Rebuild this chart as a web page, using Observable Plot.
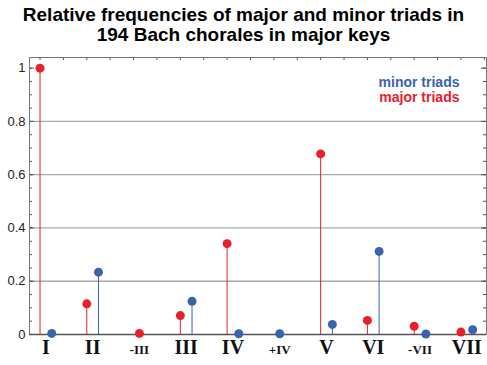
<!DOCTYPE html>
<html>
<head>
<meta charset="utf-8">
<script src="https://cdn.jsdelivr.net/npm/d3@7"></script>
<script src="https://cdn.jsdelivr.net/npm/@observablehq/plot@0.6"></script>
<style>
  html, body { margin: 0; padding: 0; background: #fff; }
  #wrap { width: 487px; height: 365px; position: relative; overflow: hidden; }
  #title { position: absolute; left: 0; top: 0; width: 487px; height: 45px; box-sizing: border-box; padding-top: 5px;
    font-family: "Liberation Sans", Arial, sans-serif; font-weight: bold; font-size: 19px; line-height: 20px; text-align: center; color: #000; }
  #chart { position: absolute; left: 0; top: 45px; }
</style>
</head>
<body>
<div id="wrap">
  <div id="title">Relative frequencies of major and minor triads in<br>194 Bach chorales in major keys</div>
  <div id="chart"></div>
</div>
<script>
const categories = ["I", "II", "-III", "III", "IV", "+IV", "V", "VI", "-VII", "VII"];
const majorTriads = [1.0, 0.115, 0.004, 0.071, 0.341, null, 0.678, 0.053, 0.031, 0.009];
const minorTriads = [0.004, 0.234, null, 0.125, 0.003, 0.003, 0.038, 0.312, 0.002, 0.018];
const yTickValues = [0, 0.2, 0.4, 0.6, 0.8, 1];
const gridValues = [0.2, 0.4, 0.6, 0.8];
const legendLabels = ["minor triads", "major triads"];

const red = "#e8202a", blue = "#3a63ad";
const W = 487, H = 320, mT = 12, mB = 31, mL = 29, mR = 1;
const xDom = [-0.225, 9.546], yDom = [0, 1.04];
const pxX = (W - mL - mR) / (xDom[1] - xDom[0]);
const pxY = (H - mT - mB) / (yDom[1] - yDom[0]);

// points: red at i, blue at i+0.25, a lone series is centred at i+0.125
const pts = [];
categories.forEach((c, i) => {
  const both = majorTriads[i] != null && minorTriads[i] != null;
  if (majorTriads[i] != null) pts.push({x: both ? i : i + 0.125, y: majorTriads[i], s: "major"});
  if (minorTriads[i] != null) pts.push({x: both ? i + 0.25 : i + 0.125, y: minorTriads[i], s: "minor"});
});
const labels = categories.map((c, i) => ({x: i + 0.125, t: c, small: /^[-+]/.test(c)}));

const minorY = d3.range(0, 1.04, 0.05).map(v => +v.toFixed(2));
const topX = d3.range(0, 9.75, 0.5);
const col = d => d.s === "major" ? red : blue;

const chart = Plot.plot({
  width: W, height: H,
  marginTop: mT, marginBottom: mB, marginLeft: mL, marginRight: mR,
  x: {domain: xDom, axis: null},
  y: {domain: yDom, axis: null},
  marks: [
    Plot.ruleY(gridValues, {stroke: "#aaa", strokeWidth: 1.3}),
    // left & right inner ticks
    Plot.ruleY(minorY, {x1: xDom[0], x2: xDom[0] + 3 / pxX, stroke: "#555"}),
    Plot.ruleY(yTickValues, {x1: xDom[0], x2: xDom[0] + 5 / pxX, stroke: "#555"}),
    Plot.ruleY(minorY, {x1: xDom[1], x2: xDom[1] - 3 / pxX, stroke: "#555"}),
    Plot.ruleY(yTickValues, {x1: xDom[1], x2: xDom[1] - 5 / pxX, stroke: "#555"}),
    // top ticks
    Plot.ruleX(topX, {y1: yDom[1], y2: yDom[1] - 3 / pxY, stroke: "#555"}),
    Plot.frame({stroke: "#777"}),
    Plot.text(yTickValues, {x: xDom[0], y: d => d, text: d => String(d), textAnchor: "end", dx: -4,
      fontFamily: "Liberation Sans, Arial, sans-serif", fontSize: 13, fill: "#222"}),
    Plot.ruleX(pts, {x: "x", y1: 0, y2: "y", stroke: col, strokeWidth: 1}),
    Plot.ruleY([0], {stroke: "#555", strokeWidth: 1.5}),
    Plot.dot(pts, {x: "x", y: "y", r: 4.5, fill: col, stroke: "none"}),
    Plot.text(labels.filter(d => !d.small), {x: "x", y: 0, text: "t", dy: 19, lineAnchor: "bottom",
      fontFamily: "Liberation Serif, Times New Roman, serif", fontWeight: "bold", fontSize: 20, fill: "#111"}),
    Plot.text(labels.filter(d => d.small), {x: "x", y: 0, text: "t", dy: 19, lineAnchor: "bottom",
      fontFamily: "Liberation Serif, Times New Roman, serif", fontWeight: "bold", fontSize: 13, fill: "#111"}),
    Plot.text([legendLabels[0]], {frameAnchor: "top-right", text: d => d, textAnchor: "end", dx: -27, dy: 19.5,
      fontFamily: "Liberation Sans, Arial, sans-serif", fontWeight: "bold", fontSize: 14, fill: blue}),
    Plot.text([legendLabels[1]], {frameAnchor: "top-right", text: d => d, textAnchor: "end", dx: -27, dy: 34.5,
      fontFamily: "Liberation Sans, Arial, sans-serif", fontWeight: "bold", fontSize: 14, fill: red})
  ]
});
document.getElementById("chart").appendChild(chart);
</script>
</body>
</html>
